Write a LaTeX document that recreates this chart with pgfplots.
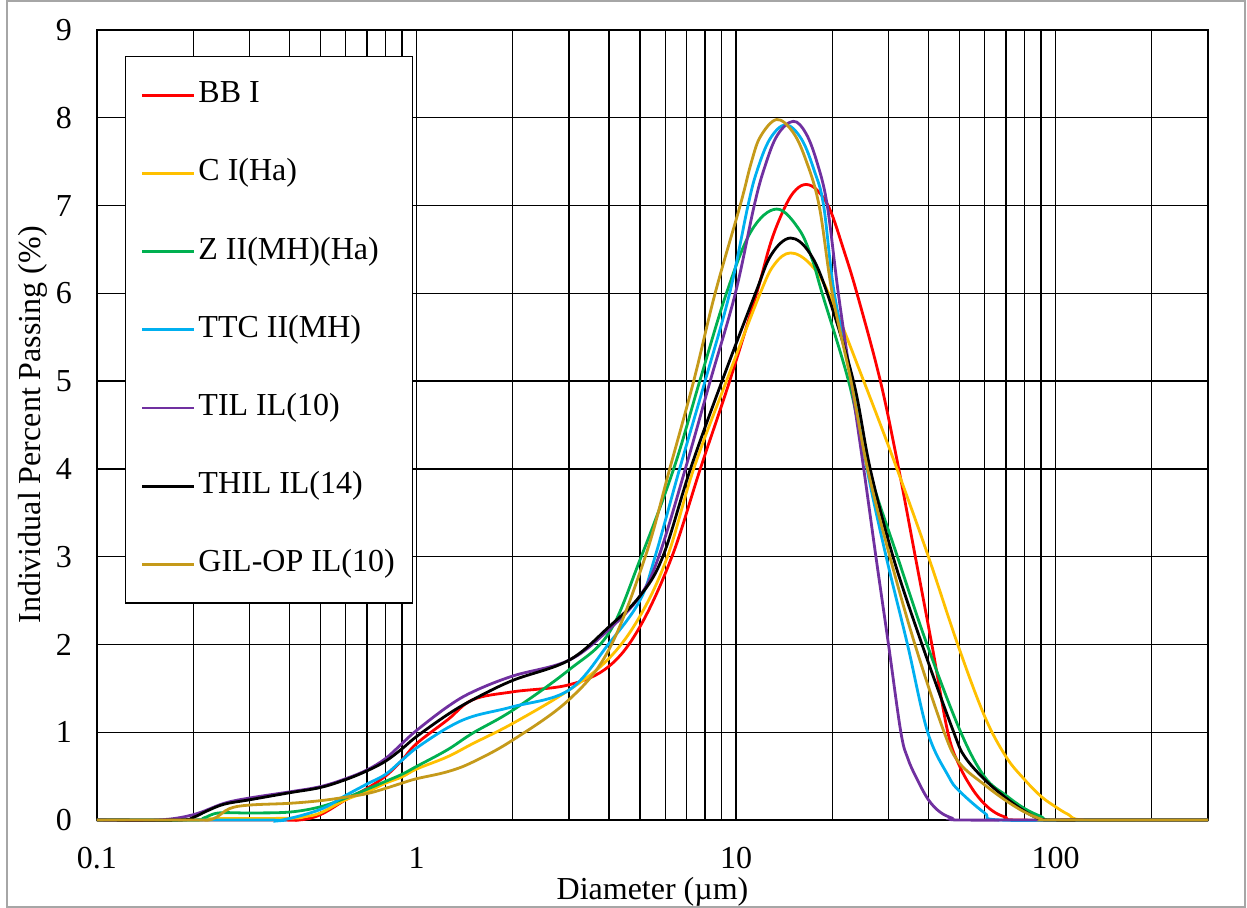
\documentclass[border=0pt]{standalone}
\usepackage{pgfplots}
\pgfplotsset{compat=1.18}
\usepackage{fontspec}
\setmainfont{Liberation Serif}
\definecolor{cRed}{RGB}{255,0,0}
\definecolor{cYel}{RGB}{255,192,0}
\definecolor{cGrn}{RGB}{0,176,80}
\definecolor{cCyn}{RGB}{0,176,240}
\definecolor{cPur}{RGB}{112,48,160}
\definecolor{cGld}{RGB}{197,154,26}
\begin{document}
\begin{tikzpicture}[font=\fontsize{16}{19}\selectfont]
\begin{axis}[
  at={(0pt,0pt)}, anchor=south west,
  scale only axis, width=555.5pt, height=395pt,
  xmode=log, xmin=0.1, xmax=300, ymin=0, ymax=9,
  xtick={0.1,1,10,100}, xticklabels={0.1,1,10,100},
  minor xtick={0.2,0.3,0.4,0.5,0.6,0.7,0.8,0.9,2,3,4,5,6,7,8,9,20,30,40,50,60,70,80,90,200},
  ytick={0,1,...,9},
  grid=both,
  major grid style={black, line width=0.65pt},
  minor grid style={black, line width=0.65pt},
  axis line style={black, line width=0.65pt},
  major tick length=0pt, minor tick length=0pt,
  /pgf/number format/assume math mode=true,
  tick label style={font=\fontsize{16}{19}\selectfont},
  yticklabel style={anchor=east, xshift=-9pt},
  xticklabel style={anchor=north, inner sep=0.5pt, yshift=-13pt},
  xlabel={Diameter (µm)},
  ylabel={Individual Percent Passing (\%)},
  xlabel style={at={(axis description cs:0.5,-0.0905)}, anchor=center, inner sep=0.5pt},
  ylabel style={at={(axis description cs:-0.0576,0.5)}, anchor=center, rotate=0},
  clip=false,
  legend cell align=left,
  legend style={at={(axis description cs:0.0252,0.967)}, anchor=north west,
    draw=black, line width=0.65pt, fill=white,
    inner xsep=7.5pt, inner ysep=10.5pt, row sep=21.6pt,
    nodes={inner sep=1.5pt, text height=11pt, text depth=3.5pt},
    font=\fontsize{16}{19}\selectfont},
  legend image code/.code={\draw[#1, line width=1.4pt] (0pt,0pt) -- (26pt,0pt);},
  every axis plot/.append style={line width=1.4pt, smooth, tension=0.6},
]
% BB I
\addplot[cRed] coordinates {(0.1,0) (0.35,0) (0.43,0) (0.5,0.06) (0.6,0.23) (0.7,0.36) (0.8,0.5) (0.9,0.68) (1,0.87) (1.25,1.14) (1.5,1.37) (2,1.46) (3,1.54) (4,1.75) (5,2.2) (6.3,3) (7.73,4) (9.55,5) (11.6,6) (12.9,6.6) (14.3,7.0) (15.4,7.18) (16.6,7.24) (18,7.17) (19.7,6.95) (21.7,6.5) (23.9,6) (28.3,5) (32.3,4) (36.4,3) (41,2) (46,1) (50,0.62) (55,0.35) (60,0.18) (65,0.08) (70,0.03) (75,0) (150,0) (300,0)};
\addlegendentry{BB I}
% C I(Ha)
\addplot[cYel] coordinates {(0.1,0) (0.2,0) (0.23,0.015) (0.4,0.02) (0.45,0.04) (0.5,0.08) (0.6,0.23) (0.7,0.32) (0.8,0.42) (0.9,0.49) (1,0.58) (1.25,0.72) (1.5,0.87) (2,1.1) (3,1.48) (4,1.84) (5,2.32) (6.1,3) (7.37,4) (9.33,5) (11.9,6) (13.19,6.33) (14.8,6.46) (16.99,6.34) (19.5,6) (25.1,5) (31.9,4) (40,3) (49.4,2) (60,1.18) (70,0.72) (80,0.46) (90,0.27) (100,0.15) (110,0.06) (122,0) (200,0) (300,0)};
\addlegendentry{C I(Ha)}
% Z II(MH)(Ha)
\addplot[cGrn] coordinates {(0.1,0) (0.2,0) (0.215,0.02) (0.24,0.08) (0.3,0.08) (0.4,0.09) (0.5,0.15) (0.6,0.25) (0.7,0.35) (0.8,0.44) (0.9,0.52) (1,0.61) (1.25,0.8) (1.5,0.99) (2,1.25) (3,1.71) (4,2.13) (5,2.96) (6.38,4) (7.7,5) (9.33,6) (11.16,6.71) (13.4,6.96) (15.74,6.73) (17.3,6.39) (18.6,6.0) (22.5,5) (26,4) (32,3) (39.6,2) (50.5,1) (60,0.49) (70,0.28) (80,0.13) (90,0.04) (97,0) (150,0) (300,0)};
\addlegendentry{Z II(MH)(Ha)}
% TTC II(MH)
\addplot[cCyn] coordinates {(0.1,0) (0.33,0) (0.38,0) (0.5,0.12) (0.6,0.28) (0.7,0.41) (0.8,0.52) (0.9,0.68) (1,0.82) (1.25,1.05) (1.5,1.18) (2,1.29) (3,1.48) (4,2.01) (5,2.5) (5.58,3) (6.66,4) (8.0,5) (9.55,6) (10.9,7) (11.62,7.39) (12.75,7.755) (14.3,7.92) (16.04,7.755) (17.6,7.39) (18.8,7) (20.3,6) (23.1,5) (25.7,4) (29.5,3) (34.4,2) (39.8,1) (46.2,0.5) (50,0.33) (60,0.08) (67,0) (150,0) (300,0)};
\addlegendentry{TTC II(MH)}
% TIL IL(10)
\addplot[cPur] coordinates {(0.1,0) (0.155,0) (0.2,0.06) (0.25,0.19) (0.3,0.25) (0.4,0.32) (0.5,0.38) (0.6,0.47) (0.7,0.57) (0.8,0.7) (0.9,0.87) (1,1.02) (1.25,1.29) (1.5,1.46) (2,1.64) (3,1.82) (4,2.17) (5,2.55) (5.73,3) (6.94,4) (8.3,5) (9.95,6) (11.4,7) (12.3,7.44) (13.46,7.8) (15.1,7.96) (16.56,7.82) (17.97,7.48) (19.3,7) (20.9,6.0) (22.9,5) (25.1,4) (27.4,3) (30,2) (32.8,1) (34.5,0.7) (36.8,0.47) (40,0.23) (43.5,0.09) (47.5,0.02) (50,0) (100,0) (300,0)};
\addlegendentry{TIL IL(10)}
% THIL IL(14)
\addplot[black] coordinates {(0.1,0) (0.18,0) (0.2,0.03) (0.22,0.1) (0.25,0.18) (0.3,0.23) (0.4,0.31) (0.5,0.37) (0.6,0.46) (0.7,0.56) (0.8,0.67) (0.9,0.81) (1,0.95) (1.25,1.2) (1.5,1.37) (2,1.59) (3,1.82) (4,2.2) (5,2.55) (5.9,3) (7.2,4) (9.04,5) (11.5,6) (12.89,6.44) (14.8,6.63) (16.99,6.46) (19.3,6) (23.3,5) (26.3,4) (31,3) (38.2,2) (48,1) (52,0.72) (60,0.46) (70,0.25) (80,0.1) (88,0.02) (95,0) (150,0) (300,0)};
\addlegendentry{THIL IL(14)}
% GIL-OP IL(10)
\addplot[cGld] coordinates {(0.1,0) (0.2,0) (0.23,0.01) (0.26,0.13) (0.3,0.17) (0.4,0.19) (0.5,0.22) (0.6,0.26) (0.7,0.3) (0.8,0.36) (0.9,0.42) (1,0.47) (1.25,0.55) (1.5,0.66) (2,0.91) (3,1.37) (4,1.94) (5.2,3) (6.2,4) (7.37,5) (8.6,6) (10.3,7) (11.18,7.5) (11.94,7.79) (13.4,7.98) (15.04,7.84) (16.5,7.53) (18.2,7.0) (20,6) (22.9,5) (25.8,4) (30.3,3) (36.3,2) (44.8,1) (50,0.65) (60,0.4) (70,0.22) (80,0.09) (90,0.01) (95,0) (150,0) (300,0)};
\addlegendentry{GIL-OP IL(10)}
\end{axis}
\pgfresetboundingbox
\useasboundingbox (-48.5pt,-44pt) rectangle (575pt,410pt);
\draw[gray!70, line width=0.8pt] (-45pt,-43.5pt) rectangle (574pt,409.5pt);
\end{tikzpicture}
\end{document}
